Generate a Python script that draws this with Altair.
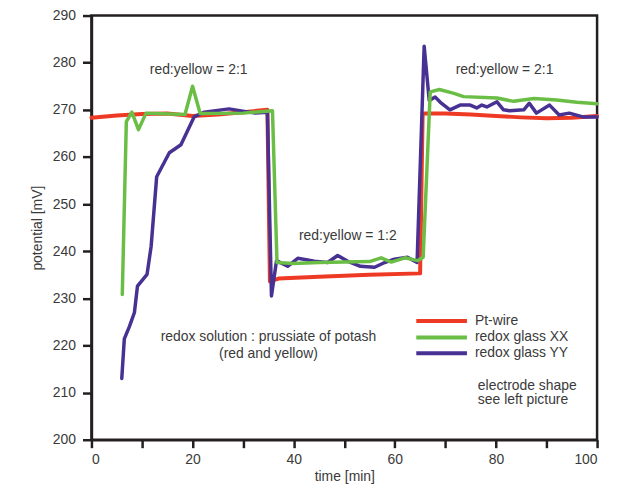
import altair as alt
import pandas as pd

series_names = ["Pt-wire", "redox glass XX", "redox glass YY"]
series_colors = ["#EE3A24", "#6BBE45", "#473192"]

# Pt-wire (red)
red_t = [0, 5, 10, 15, 20, 25, 30, 34.8, 35.3, 37, 45, 55, 65, 65.5, 70, 75, 80, 85, 90, 95, 100]
red_v = [268.3, 268.8, 269.1, 269.2, 268.7, 269.0, 269.5, 270.0, 233.6, 234.2, 234.6, 235.0, 235.3,
         269.2, 269.2, 269.0, 268.7, 268.4, 268.2, 268.3, 268.7]

# redox glass XX (green)
green_t = [6.1, 6.9, 8.0, 9.3, 10.8, 18.5, 20.0, 21.5, 30, 35.8, 36.7, 40, 45, 50, 55, 57.3, 59.3, 62,
           64.5, 65.6, 67.0, 68.8, 71.7, 73.6, 80.2, 83.5, 87.5, 92, 96, 100]
green_v = [230.8, 267.5, 269.5, 265.8, 269.3, 269.0, 275.0, 269.2, 269.3, 269.8, 237.6, 237.4, 237.6,
           237.7, 237.8, 238.6, 237.7, 238.6, 238.0, 238.7, 273.8, 274.3, 273.5, 272.8, 272.5, 271.8,
           272.4, 272.1, 271.6, 271.3]

# redox glass YY (blue)
blue_t = [6.0, 6.5, 7.5, 8.5, 9.1, 11.0, 11.8, 12.9, 15.4, 17.7, 20.3, 22.3, 27.2, 32.4, 34.8, 35.6,
          36.6, 38.8, 40.8, 44.1, 46.7, 48.7, 50.6, 53.2, 56.0, 58.0, 59.9, 62.5, 64.4, 65.8, 66.8, 68.0,
          69.0, 70.9, 72.9, 74.9, 76.2, 77.2, 78.2, 80.2, 81.5, 82.7, 85.5, 86.6, 88.0, 90.6, 92.5, 94.5,
          97.2, 100]
blue_v = [213.0, 221.4, 224.0, 227.0, 232.6, 235.1, 241.0, 255.8, 260.9, 262.6, 268.5, 269.5, 270.2,
          269.3, 269.5, 230.5, 238.0, 236.8, 238.5, 237.9, 237.6, 239.1, 237.9, 236.8, 236.6, 237.6,
          238.3, 238.7, 237.6, 283.5, 272.0, 272.7, 271.6, 270.0, 271.0, 271.0, 270.4, 271.0, 270.6,
          271.7, 270.0, 269.8, 270.0, 271.4, 269.3, 271.0, 268.9, 269.3, 268.5, 268.5]

ann_texts = ["red:yellow =  2:1", "red:yellow = 1:2", "red:yellow =  2:1",
             "redox solution : prussiate of potash", "(red and yellow)"]
ann_t = [21.2, 50.7, 81.7, 35.0, 35.0]
ann_v = [278.5, 243.2, 278.4, 221.7, 218.2]

note_lines = ["electrode shape", "see left picture"]

FONT = "Liberation Sans"
AXC = "#231F20"
TXT = "#3A3A3A"

rows = []
for name, ts, vs in [(series_names[0], red_t, red_v),
                     (series_names[1], green_t, green_v),
                     (series_names[2], blue_t, blue_v)]:
    for i, (t, v) in enumerate(zip(ts, vs)):
        rows.append({"series": name, "t": t, "mV": v, "i": i})
df = pd.DataFrame(rows)

x_enc = alt.X("t:Q", scale=alt.Scale(domain=[0, 100], nice=False, zero=False),
              axis=alt.Axis(values=list(range(0, 101, 10)),
                            labelExpr="datum.value % 20 == 0 ? datum.label : ''",
                            title="time [min]", grid=False, tickSize=8, labelPadding=5,
                            titlePadding=3))
y_enc = alt.Y("mV:Q", scale=alt.Scale(domain=[200, 290], nice=False, zero=False),
              axis=alt.Axis(values=list(range(200, 291, 10)), title="potential [mV]",
                            grid=False, tickSize=9, labelPadding=7, titlePadding=8))

def line_layer(name, color, width):
    return alt.Chart(df).transform_filter(alt.datum.series == name).mark_line(
        color=color, strokeWidth=width, strokeJoin="round", strokeCap="round"
    ).encode(x=x_enc, y=y_enc, order="i:Q")

red_layer = line_layer(series_names[0], series_colors[0], 4)
blue_layer = line_layer(series_names[2], series_colors[2], 3.5)
green_layer = line_layer(series_names[1], series_colors[1], 3.5)

ann_df = pd.DataFrame({"text": ann_texts, "t": ann_t, "mV": ann_v})
ann_layer = alt.Chart(ann_df).mark_text(font=FONT, fontSize=14, color=TXT, align="center",
                                        baseline="middle").encode(
    x=alt.X("t:Q"), y=alt.Y("mV:Q"), text="text:N")

# legend (pixel positions inside plot area)
leg_df = pd.DataFrame({"series": series_names, "color": series_colors,
                       "ly": [307.5, 324, 340]})
leg_lines = alt.Chart(leg_df).mark_rule(strokeWidth=4).encode(
    x=alt.value(327), x2=alt.value(378), y=alt.Y("ly:Q", scale=None),
    color=alt.Color("color:N", scale=None))
leg_text = alt.Chart(leg_df).mark_text(font=FONT, fontSize=14, color=TXT, align="left",
                                       baseline="middle").encode(
    x=alt.value(386), y=alt.Y("ly:Q", scale=None), text="series:N")

note_df = pd.DataFrame({"text": note_lines, "ly": [372.5, 387.5]})
note_layer = alt.Chart(note_df).mark_text(font=FONT, fontSize=14, color=TXT, align="left",
                                          baseline="middle").encode(
    x=alt.value(389), y=alt.Y("ly:Q", scale=None), text="text:N")

chart = alt.layer(red_layer, blue_layer, green_layer, ann_layer, leg_lines, leg_text,
                  note_layer).properties(
    width=509, height=427,
    background="white",
    autosize=alt.AutoSizeParams(type="none"),
    padding={"left": 84, "top": 6, "right": 12, "bottom": 50},
).configure_view(stroke=AXC, strokeWidth=2.5).configure_axis(
    domainColor=AXC, domainWidth=2.5, tickColor=AXC, tickWidth=2.5,
    labelFont=FONT, labelFontSize=14, labelColor=TXT,
    titleFont=FONT, titleFontSize=14, titleColor=TXT, titleFontWeight="normal",
)

chart.save("out.html", embed_options={"renderer": "svg", "actions": False})
